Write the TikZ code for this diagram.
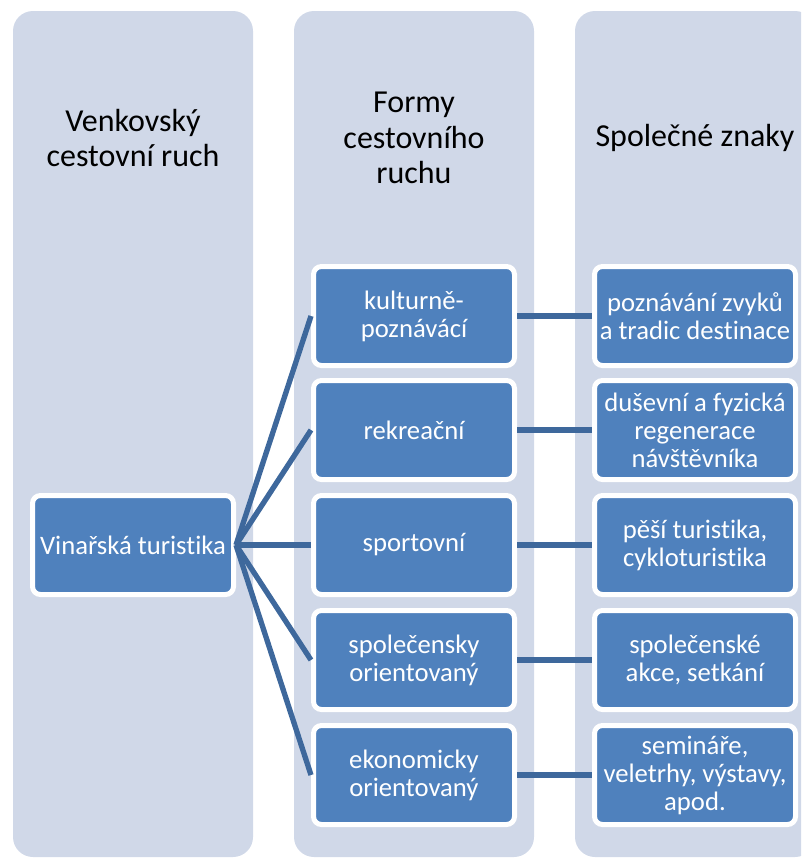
\documentclass[tikz,border=0pt]{standalone}
\usepackage{fontspec}
\setmainfont{Carlito}[Ligatures=NoCommon]
\definecolor{panelbg}{RGB}{208,216,232}
\definecolor{boxblue}{RGB}{79,129,189}
\definecolor{linkblue}{RGB}{62,104,156}
\tikzset{
  panel/.style={fill=panelbg,rounded corners=15pt},
  heading/.style={align=center,font=\fontsize{24}{26.5}\selectfont},
  item/.style={draw=white,line width=3.75pt,fill=boxblue,rounded corners=6pt,
    text=white,align=center,minimum width=150.75pt,minimum height=74.25pt,
    inner sep=2pt,font=\fontsize{20}{21}\selectfont},
  link/.style={draw=linkblue,line width=4pt}
}
\begin{document}
\begin{tikzpicture}[x=0.75pt,y=-0.75pt]
\useasboundingbox (0,0) rectangle (801,858);
\clip (0,0) rectangle (801,858);

\fill[panel] (13,11) rectangle (253,857);
\fill[panel] (294,11) rectangle (534,857);
\fill[panel] (575,11) rectangle (815,857);

\node[heading] (venkov) at (133,138) {Venkovský\\cestovní ruch};
\node[heading] (formy) at (414,138) {Formy\\cestovního\\ruchu};
\node[heading] (znaky) at (695,138) {Společné znaky};

\node[item] (vino) at (133,545) {Vinařská turistika};

\node[item] (kult) at (414,316) {kulturně-\\poznávácí};
\node[item] (rekr) at (414,430) {rekreační};
\node[item] (sport) at (414,545) {sportovní};
\node[item] (spol) at (414,660) {společensky\\orientovaný};
\node[item] (ekon) at (414,775) {ekonomicky\\orientovaný};

\node[item] (zvyky) at (695,316) {poznávání zvyků\\a tradic destinace};
\node[item] (regen) at (695,430) {duševní a fyzická\\regenerace\\návštěvníka};
\node[item] (pesi) at (695,545) {pěší turistika,\\cykloturistika};
\node[item] (akce) at (695,660) {společenské\\akce, setkání};
\node[item] (semin) at (695,775) {semináře,\\veletrhy, výstavy,\\apod.};

\draw[link] (vino.east) -- (kult.west);
\draw[link] (vino.east) -- (rekr.west);
\draw[link] (vino.east) -- (sport.west);
\draw[link] (vino.east) -- (spol.west);
\draw[link] (vino.east) -- (ekon.west);

\draw[link] (kult) -- (zvyky);
\draw[link] (rekr) -- (regen);
\draw[link] (sport) -- (pesi);
\draw[link] (spol) -- (akce);
\draw[link] (ekon) -- (semin);
\end{tikzpicture}
\end{document}
